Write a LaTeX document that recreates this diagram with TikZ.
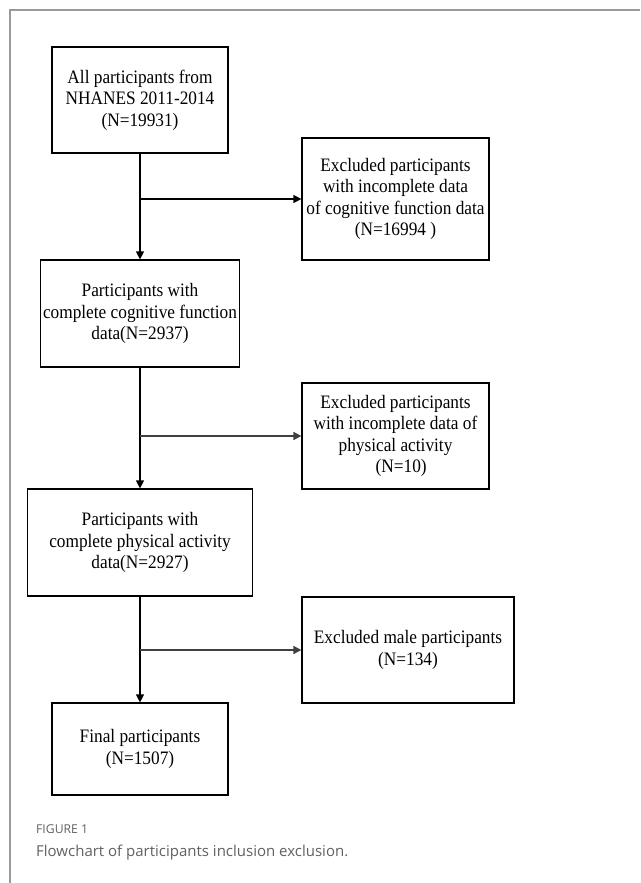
\documentclass[tikz,border=0pt]{standalone}
\usepackage{fontspec}
\setmainfont{Liberation Serif}
\newfontfamily\boxfont[FakeStretch=0.91]{Liberation Serif}
\newfontfamily\capfont{Open Sans}
\usetikzlibrary{arrows.meta}
\tikzset{
  box/.style={draw=black, line width=1.2pt, inner sep=0pt, align=center,
    font=\boxfont\fontsize{19}{21.4}\selectfont},
  flow/.style={draw=black, line width=1.2pt, -{Triangle[length=8pt,width=8pt]}},
  branch/.style={draw=black!75, line width=1.6pt, -{Triangle[length=8pt,width=8pt]}},
  frame/.style={draw=black!40, line width=2pt},
  captext/.style={anchor=west, inner sep=0pt, text=black!62}
}
\begin{document}
\begin{tikzpicture}[x=1pt,y=-1pt]
\useasboundingbox[fill=white] (0,0) rectangle (640,883);
\draw[frame] (10,883) -- (10,10) -- (640,10);

\node[box, minimum width=176pt, minimum height=106pt] (b1) at (140,100)
  {All participants from\\NHANES 2011-2014\\(N=19931)};
\node[box, minimum width=187pt, minimum height=122pt] (e1) at (395.5,199)
  {Excluded participants\\with incomplete data\\of cognitive function data\\(N=16994 )};
\node[box, minimum width=199pt, minimum height=107pt] (b2) at (140,313.5)
  {Participants with\\complete cognitive function\\data(N=2937)};
\node[box, minimum width=187pt, minimum height=106pt] (e2) at (395.5,436)
  {Excluded participants\\with incomplete data of\\physical activity\\\hspace{0.6em}(N=10)};
\node[box, minimum width=225pt, minimum height=107pt] (b3) at (140,542.5)
  {Participants with\\complete physical activity\\data(N=2927)};
\node[box, minimum width=212pt, minimum height=106pt] (e3) at (408,650)
  {Excluded male participants\\(N=134)};
\node[box, minimum width=176pt, minimum height=92pt] (b4) at (140,749)
  {Final participants\\(N=1507)};

\draw[flow] (b1.south) -- (b2.north);
\draw[flow] (b2.south) -- (b3.north);
\draw[flow] (b3.south) -- (b4.north);

\coordinate (j1) at (b1.south |- e1.west);
\coordinate (j2) at (b2.south |- e2.west);
\coordinate (j3) at (b3.south |- e3.west);
\draw[branch, draw=black, line width=1.2pt] (j1) -- (e1.west);
\draw[branch] (j2) -- (e2.west);
\draw[branch] (j3) -- (e3.west);

\node[captext, font=\capfont\fontsize{12.2}{14}\selectfont] (fig) at (36,829) {FIGURE 1};
\node[captext, font=\capfont\fontsize{15}{17}\selectfont] (caption) at (36,853)
  {Flowchart of participants inclusion exclusion.};
\end{tikzpicture}
\end{document}
